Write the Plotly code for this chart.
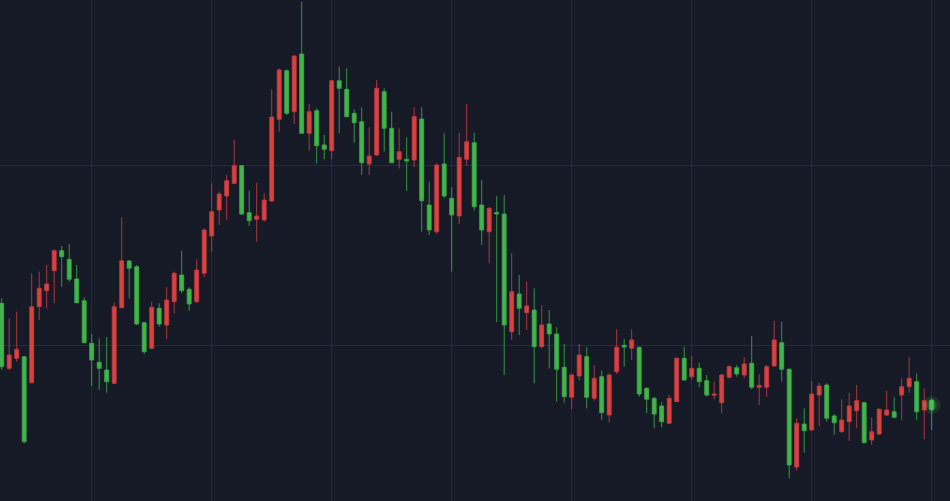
import plotly.graph_objects as go

idx = list(range(125))

opens = [19.67, 13.17, 14.17, 14.33, 11.73, 19.33, 20.93, 22.93, 24.93, 24.07,
         22.1, 19.93, 15.67, 13.77, 13.0, 11.67, 19.23, 23.9, 23.33, 17.73,
         15.17, 19.17, 17.5, 19.83, 22.5, 21.07, 19.83, 22.67, 26.4, 29.0,
         30.4, 31.67, 33.43, 28.73, 28.07, 28.0, 29.9, 38.07, 42.93, 38.83,
         44.6, 36.67, 38.93, 35.5, 34.93, 41.93, 41.07, 38.67, 37.83, 33.6,
         34.5, 40.83, 37.17, 34.07, 34.07, 34.0, 38.1, 29.5, 26.83, 33.6,
         30.17, 28.4, 34.07, 35.73, 29.5, 26.83, 28.75, 28.6, 16.83, 20.6,
         18.73, 19.0, 15.33, 17.6, 16.6, 13.27, 10.27, 12.4, 14.33, 10.17,
         12.33, 8.5, 12.83, 15.47, 15.17, 15.27, 11.17, 10.17, 9.4, 7.67,
         9.83, 14.17, 12.33, 13.17, 11.93, 10.47, 9.73, 12.27, 13.23, 12.5,
         13.67, 11.27, 11.27, 13.4, 15.73, 13.07, 3.3, 7.6, 7.0, 10.5,
         11.5, 8.4, 6.83, 7.83, 8.93, 9.73, 6.0, 6.6, 8.5, 8.83,
         10.5, 11.33, 11.83, 9.0, 10.0]

highs = [20.17, 18.17, 18.83, 14.4, 22.67, 22.83, 23.5, 25.07, 25.4, 25.6,
         23.5, 20.27, 16.6, 16.17, 16.27, 19.73, 28.27, 24.0, 23.5, 17.83,
         19.83, 19.67, 21.27, 22.83, 24.93, 21.27, 24.07, 27.17, 31.67, 30.83,
         32.5, 36.0, 33.5, 30.93, 31.73, 30.67, 41.07, 43.17, 43.07, 44.5,
         49.83, 39.6, 39.17, 36.5, 42.0, 43.33, 43.17, 39.07, 39.27, 37.27,
         42.0, 41.17, 38.83, 37.17, 36.27, 39.27, 39.27, 31.83, 33.67, 36.67,
         31.27, 36.73, 39.6, 36.73, 32.0, 29.33, 30.4, 30.5, 24.67, 22.5,
         21.83, 21.17, 19.5, 19.0, 17.27, 15.6, 12.67, 15.6, 15.27, 13.5,
         12.93, 12.67, 17.07, 16.07, 17.07, 15.33, 11.27, 10.33, 9.83, 10.5,
         14.27, 15.33, 14.4, 13.73, 12.5, 11.83, 12.6, 13.5, 13.5, 14.27,
         16.4, 12.6, 13.5, 17.93, 17.83, 13.17, 8.17, 9.17, 11.93, 11.73,
         11.67, 8.6, 10.07, 10.73, 11.5, 9.83, 8.27, 9.17, 10.93, 10.27,
         12.17, 14.27, 12.67, 11.17, 10.17]

lows = [13.0, 13.0, 13.83, 5.67, 11.67, 18.0, 19.17, 19.67, 21.33, 21.83,
        19.67, 15.67, 11.4, 11.0, 10.73, 11.6, 19.17, 20.17, 17.5, 14.6,
        15.07, 17.33, 16.07, 18.67, 20.67, 18.93, 19.73, 22.27, 24.83, 27.5,
        28.0, 31.6, 28.5, 27.4, 25.83, 27.83, 29.83, 36.83, 38.5, 37.6,
        36.67, 34.93, 33.67, 34.07, 34.07, 36.67, 38.27, 35.73, 32.5, 32.5,
        34.4, 34.83, 33.67, 33.17, 30.9, 33.3, 26.83, 26.5, 26.6, 30.17,
        22.83, 27.6, 33.4, 28.93, 25.5, 23.67, 17.8, 12.5, 16.0, 16.5,
        17.0, 11.67, 15.17, 13.17, 9.83, 9.73, 9.07, 12.0, 9.17, 9.93,
        8.0, 7.73, 12.6, 13.33, 14.0, 10.33, 8.7, 7.17, 7.27, 7.6,
        9.83, 11.93, 12.0, 11.27, 10.33, 10.07, 8.67, 12.17, 12.33, 12.17,
        11.07, 9.5, 10.33, 13.33, 11.83, 2.17, 2.95, 4.73, 6.93, 7.4,
        7.83, 6.5, 6.73, 5.93, 7.17, 5.67, 5.5, 6.5, 8.4, 8.17,
        8.0, 10.73, 8.0, 6.07, 7.0]

closes = [13.33, 14.5, 15.07, 5.83, 19.33, 21.17, 21.6, 24.93, 24.33, 22.07,
          19.73, 15.73, 14.0, 13.17, 11.83, 19.33, 23.93, 23.17, 17.6, 14.83,
          19.27, 17.6, 20.0, 22.67, 20.93, 19.6, 23.0, 27.0, 28.83, 30.6,
          31.93, 33.43, 28.6, 27.93, 28.4, 30.0, 38.3, 43.0, 38.67, 44.4,
          36.67, 38.83, 35.43, 35.07, 41.93, 41.17, 38.33, 37.73, 33.73, 34.4,
          41.17, 37.17, 33.73, 34.83, 33.9, 38.33, 29.93, 27.0, 33.5, 30.4,
          28.5, 34.27, 35.83, 29.33, 27.0, 29.17, 28.6, 17.5, 20.83, 19.17,
          19.4, 15.33, 17.5, 16.6, 13.07, 10.33, 12.5, 14.5, 10.27, 12.17,
          8.73, 12.5, 15.27, 15.3, 16.0, 10.6, 10.07, 8.6, 7.83, 10.17,
          14.17, 12.0, 13.17, 11.83, 10.5, 10.6, 12.5, 13.33, 12.6, 13.6,
          11.27, 11.47, 13.33, 16.0, 13.07, 3.5, 7.67, 6.93, 10.6, 11.4,
          8.17, 7.73, 8.0, 9.4, 9.93, 5.73, 6.83, 9.07, 9.0, 8.27,
          11.33, 12.17, 8.83, 9.93, 9.0]

UP = "#d9423f"
DOWN = "#41b649"
BG = "#161a27"
GRID = "#242a38"

fig = go.Figure()
fig.add_trace(go.Candlestick(
    x=idx, open=opens, high=highs, low=lows, close=closes,
    increasing=dict(line=dict(color="rgba(200,60,64,0.85)", width=1), fillcolor=UP),
    decreasing=dict(line=dict(color="rgba(60,170,70,0.85)", width=1), fillcolor=DOWN),
    whiskerwidth=0,
    showlegend=False,
    hoverinfo="skip",
))

# soft glow on the latest candle
fig.add_trace(go.Scatter(
    x=[idx[-1]], y=[(opens[-1] + closes[-1]) / 2],
    mode="markers",
    marker=dict(size=18, color="rgba(70,220,80,0.12)", line=dict(width=0)),
    showlegend=False, hoverinfo="skip",
))
fig.add_trace(go.Scatter(
    x=[idx[-1]], y=[(opens[-1] + closes[-1]) / 2],
    mode="markers",
    marker=dict(size=10, color="rgba(90,230,100,0.22)", line=dict(width=0)),
    showlegend=False, hoverinfo="skip",
))

fig.update_layout(
    width=950, height=501,
    margin=dict(l=0, r=0, t=0, b=0),
    paper_bgcolor=BG, plot_bgcolor=BG,
    boxgap=0.25,
    xaxis=dict(range=[-0.227, 126.44], showgrid=True, gridcolor=GRID, gridwidth=1,
               tick0=12, dtick=16, showticklabels=False, zeroline=False,
               rangeslider=dict(visible=False), showline=False, ticks=""),
    yaxis=dict(range=[-0.1, 50.0], showgrid=True, gridcolor=GRID, gridwidth=1,
               tick0=15.43, dtick=18, showticklabels=False, zeroline=False,
               showline=False, ticks=""),
)

fig.write_html(
    "out.html",
    config={"displayModeBar": False},
    post_script="document.body.style.margin='0';document.body.style.padding='0';"
                "document.body.style.overflow='hidden';"
                "document.body.style.background='" + BG + "';",
)
